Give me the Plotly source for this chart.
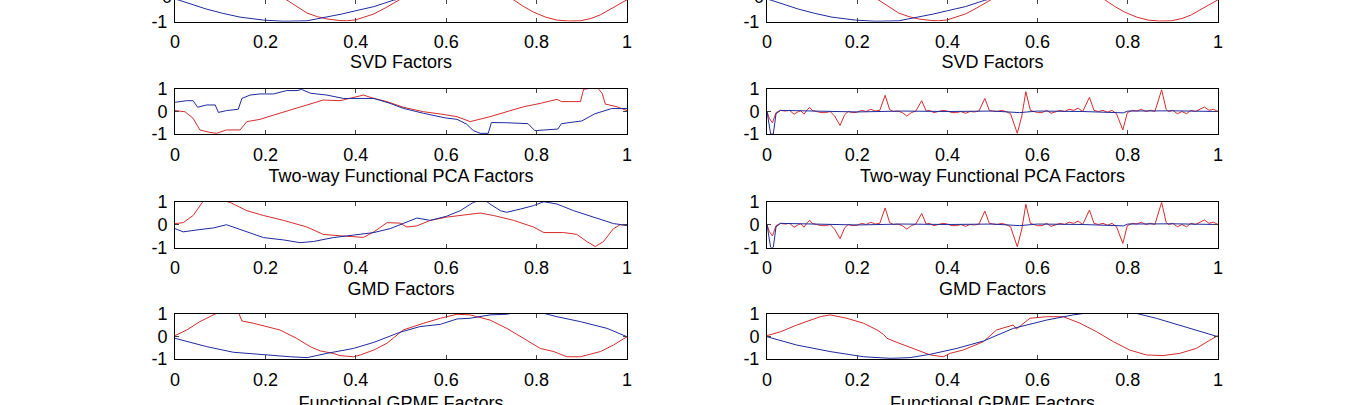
import plotly.graph_objects as go
from plotly.subplots import make_subplots

# axis ticks shared by all panels
x_ticks = [0, 0.2, 0.4, 0.6, 0.8, 1]
x_ticktext = ['0', '0.2', '0.4', '0.6', '0.8', '1']
y_ticks = [-1, 0, 1]
y_ticktext = ['-1', '0', '1']

row_titles = ['SVD Factors', 'Two-way Functional PCA Factors', 'GMD Factors', 'Functional GPMF Factors']

# row 1 - SVD factors (same in both columns, top of panel cut off)
svd_x_blue = [0, 0.035, 0.07, 0.105, 0.144, 0.196, 0.24, 0.292, 0.336, 0.37, 0.4, 0.44, 0.483,
              0.52, 0.6, 0.68, 0.75, 0.82, 0.9, 0.96, 1.0]
svd_y_blue = [0.0, -0.22, -0.45, -0.63, -0.8, -0.93, -0.98, -0.96, -0.8, -0.66, -0.52, -0.34, -0.06,
              0.12, 0.58, 0.9, 0.98, 0.88, 0.58, 0.25, 0.0]
svd_x_red = [0, 0.06, 0.125, 0.19, 0.247, 0.27, 0.292, 0.315, 0.336, 0.365, 0.38, 0.4, 0.42, 0.44,
             0.465, 0.49, 0.56, 0.625, 0.69, 0.749, 0.77, 0.793, 0.82, 0.845, 0.87, 0.897, 0.92,
             0.941, 0.97, 1.0]
svd_y_red = [0.0, 0.68, 1.0, 0.68, -0.04, -0.34, -0.62, -0.78, -0.88, -0.95, -0.96, -0.92, -0.8, -0.66,
             -0.4, -0.06, 0.68, 0.98, 0.7, -0.04, -0.32, -0.58, -0.8, -0.93, -0.97, -0.96, -0.86,
             -0.7, -0.38, -0.04]

# row 2 left - two-way functional PCA
fpca_x_blue = [0, 0.026, 0.04, 0.05, 0.07, 0.089, 0.096, 0.114, 0.14, 0.148, 0.166, 0.188, 0.218,
               0.247, 0.27, 0.28, 0.3, 0.336, 0.373, 0.4, 0.44, 0.476, 0.505, 0.55, 0.597, 0.624,
               0.645, 0.66, 0.675, 0.693, 0.70, 0.734, 0.781, 0.796, 0.847, 0.855, 0.9, 0.929,
               0.966, 1.0]
fpca_y_blue = [0.41, 0.48, 0.48, 0.19, 0.29, 0.29, -0.04, 0.04, 0.1, 0.58, 0.73, 0.78, 0.78,
               0.93, 0.93, 0.98, 0.81, 0.73, 0.58, 0.58, 0.58, 0.36, 0.14, -0.08, -0.28, -0.35,
               -0.56, -0.85, -0.97, -0.97, -0.49, -0.5, -0.54, -0.85, -0.78, -0.54, -0.42, -0.1,
               0.13, 0.13]
fpca_x_red = [0, 0.022, 0.04, 0.055, 0.077, 0.092, 0.114, 0.144, 0.159, 0.188, 0.218, 0.255, 0.292,
              0.328, 0.365, 0.4, 0.417, 0.44, 0.469, 0.505, 0.55, 0.587, 0.624, 0.653, 0.697,
              0.734, 0.771, 0.808, 0.845, 0.855, 0.897, 0.904, 0.934, 0.945, 0.952, 0.978, 1.0]
fpca_y_red = [0.04, -0.01, -0.3, -0.82, -0.93, -0.97, -0.82, -0.82, -0.45, -0.35, -0.16, 0.07, 0.29,
              0.51, 0.48, 0.66, 0.73, 0.58, 0.44, 0.19, -0.01, -0.11, -0.23, -0.45, -0.23,
              -0.01, 0.21, 0.36, 0.54, 0.44, 0.44, 0.99, 1.07, 0.81, 0.33, 0.21, 0.04]

# rows 2/3 right - spiky factors
spike_x_red = [0, 0.005, 0.012, 0.02, 0.03, 0.04, 0.05, 0.06, 0.07, 0.075, 0.082, 0.09, 0.095, 0.1,
               0.11, 0.12, 0.13, 0.14, 0.15, 0.162, 0.172, 0.18, 0.19, 0.2, 0.21, 0.22, 0.23, 0.24,
               0.25, 0.262, 0.272, 0.28, 0.29, 0.3, 0.31, 0.32, 0.33, 0.343, 0.353, 0.36, 0.37,
               0.38, 0.39, 0.4, 0.41, 0.42, 0.43, 0.44, 0.45, 0.46, 0.47, 0.483, 0.493, 0.5, 0.51,
               0.52, 0.53, 0.54, 0.555, 0.565, 0.574, 0.584, 0.59, 0.6, 0.61, 0.62, 0.63, 0.64,
               0.65, 0.66, 0.67, 0.68, 0.69, 0.7, 0.715, 0.725, 0.735, 0.745, 0.755, 0.765, 0.775,
               0.789, 0.799, 0.81, 0.82, 0.83, 0.84, 0.85, 0.86, 0.875, 0.885, 0.89, 0.9, 0.91,
               0.92, 0.93, 0.94, 0.95, 0.96, 0.97, 0.98, 0.99, 1.0]
spike_y_red = [0.0, -0.3, -0.5, -0.05, 0.05, 0.02, 0.05, -0.12, 0.0, 0.03, -0.12, 0.1, 0.18, 0.05,
               0.0, -0.05, -0.05, 0.0, -0.2, -0.62, -0.15, 0.0, -0.05, -0.03, 0.05, 0.0, 0.1, 0.02,
               0.05, 0.72, 0.08, 0.0, 0.02, -0.05, -0.2, -0.05, 0.02, 0.48, 0.02, 0.05, -0.05,
               0.0, 0.05, 0.02, -0.05, -0.05, 0.0, -0.08, 0.0, -0.02, 0.02, 0.58, 0.05, 0.02, 0.0,
               0.05, 0.0, -0.1, -0.97, -0.2, 0.88, 0.05, 0.0, -0.05, -0.05, 0.05, -0.08, 0.0,
               0.05, 0.0, 0.1, 0.05, 0.15, 0.0, 0.63, 0.05, 0.0, 0.05, -0.03, 0.05, -0.1,
               -0.82, -0.05, 0.05, 0.02, 0.1, 0.0, 0.05, 0.0, 0.96, 0.1, 0.0, 0.05, -0.1,
               0.0, -0.1, 0.05, 0.0, 0.1, 0.2, 0.05, 0.1, 0.0]
spike_x_blue = [0, 0.004, 0.008, 0.014, 0.02, 0.03, 0.1, 0.2, 0.3, 0.4, 0.5, 0.56, 0.6, 0.7, 0.79,
                0.8, 0.9, 1.0]
spike_y_blue = [0.0, -0.5, -1.0, -1.0, -0.1, 0.05, 0.02, -0.02, 0.02, 0.0, 0.02, -0.05, 0.02, 0.0,
                -0.06, 0.02, 0.03, 0.0]

# row 3 left - GMD
gmd_x_red = [0, 0.018, 0.04, 0.063, 0.092, 0.107, 0.122, 0.159, 0.196, 0.24, 0.292, 0.328, 0.365,
             0.4, 0.417, 0.44, 0.461, 0.469, 0.498, 0.513, 0.535, 0.565, 0.601, 0.66, 0.675, 0.705,
             0.749, 0.793, 0.816, 0.86, 0.889, 0.911, 0.93, 0.948, 0.97, 0.985, 1.0]
gmd_y_red = [0.04, 0.08, 0.39, 1.03, 1.17, 1.03, 0.96, 0.6, 0.39, 0.18, -0.11, -0.43, -0.49,
             -0.53, -0.56, -0.32, -0.04, 0.08, 0.06, -0.11, -0.06, 0.18, 0.32, 0.46, 0.5, 0.39,
             0.18, -0.11, -0.35, -0.35, -0.43, -0.74, -0.96, -0.74, -0.18, -0.01, -0.04]
gmd_x_blue = [0, 0.018, 0.055, 0.085, 0.114, 0.129, 0.159, 0.196, 0.24, 0.277, 0.306, 0.35, 0.395,
              0.44, 0.476, 0.513, 0.535, 0.565, 0.601, 0.631, 0.66, 0.683, 0.697, 0.72, 0.734,
              0.764, 0.793, 0.816, 0.845, 0.882, 0.926, 0.97, 1.0]
gmd_y_blue = [-0.18, -0.32, -0.22, -0.15, -0.01, -0.11, -0.32, -0.57, -0.67, -0.79, -0.74, -0.57,
              -0.46, -0.35, -0.18, 0.11, 0.28, 0.18, 0.36, 0.6, 0.96, 1.1, 0.89, 0.6, 0.53,
              0.67, 0.82, 0.99, 0.89, 0.6, 0.32, 0.04, -0.04]

# row 4 left - functional GPMF
gpmf_l_x_red = [0, 0.026, 0.055, 0.085, 0.107, 0.14, 0.148, 0.173, 0.203, 0.232, 0.269, 0.299, 0.321,
                0.35, 0.365, 0.395, 0.41, 0.44, 0.469, 0.505, 0.55, 0.587, 0.624, 0.653, 0.697,
                0.734, 0.771, 0.808, 0.838, 0.867, 0.897, 0.941, 0.97, 1.0]
gpmf_l_y_red = [0.04, 0.29, 0.66, 0.99, 1.18, 1.1, 0.69, 0.59, 0.44, 0.29, -0.08, -0.45, -0.64,
                -0.75, -0.85, -0.9, -0.82, -0.6, -0.3, 0.29, 0.59, 0.81, 0.99, 0.96, 0.73,
                0.36, -0.08, -0.53, -0.67, -0.9, -0.9, -0.67, -0.38, -0.01]
gpmf_l_x_blue = [0, 0.026, 0.07, 0.129, 0.196, 0.255, 0.292, 0.336, 0.395, 0.44, 0.498, 0.542, 0.587,
                 0.624, 0.653, 0.697, 0.734, 0.756, 0.808, 0.845, 0.897, 0.956, 1.0]
gpmf_l_y_blue = [-0.08, -0.23, -0.45, -0.7, -0.82, -0.9, -0.94, -0.75, -0.53, -0.26, 0.19, 0.44, 0.54,
                 0.78, 0.81, 0.96, 0.99, 1.07, 1.07, 0.88, 0.66, 0.36, -0.01]

# row 4 right - functional GPMF
gpmf_r_x_red = [0, 0.03, 0.066, 0.089, 0.118, 0.14, 0.177, 0.214, 0.244, 0.258, 0.266, 0.288, 0.325,
                0.362, 0.391, 0.406, 0.435, 0.48, 0.509, 0.546, 0.553, 0.583, 0.62, 0.657, 0.694,
                0.731, 0.768, 0.804, 0.841, 0.878, 0.915, 0.952, 0.982, 1.0]
gpmf_r_y_red = [0.04, 0.21, 0.51, 0.66, 0.88, 0.96, 0.81, 0.59, 0.29, 0.1, -0.08, -0.26, -0.53,
                -0.82, -0.9, -0.75, -0.6, -0.23, 0.29, 0.51, 0.33, 0.81, 0.88, 0.88, 0.59,
                0.21, -0.23, -0.6, -0.82, -0.85, -0.75, -0.53, -0.16, 0.04]
gpmf_r_x_blue = [0, 0.066, 0.14, 0.214, 0.273, 0.317, 0.362, 0.421, 0.48, 0.546, 0.62, 0.679, 0.731,
                 0.804, 0.863, 0.915, 0.967, 1.0]
gpmf_r_y_blue = [-0.01, -0.38, -0.67, -0.9, -0.97, -0.94, -0.79, -0.53, -0.2, 0.36, 0.73, 0.96, 1.1,
                 1.1, 0.81, 0.51, 0.21, -0.01]

BLUE = '#1f2a9e'
RED = '#d42c2c'
FONT = 'Liberation Sans, Arial, sans-serif'
W, H = 1345, 405

panels = {
    (1, 1): (svd_x_blue, svd_y_blue, svd_x_red, svd_y_red),
    (1, 2): (svd_x_blue, svd_y_blue, svd_x_red, svd_y_red),
    (2, 1): (fpca_x_blue, fpca_y_blue, fpca_x_red, fpca_y_red),
    (2, 2): (spike_x_blue, spike_y_blue, spike_x_red, spike_y_red),
    (3, 1): (gmd_x_blue, gmd_y_blue, gmd_x_red, gmd_y_red),
    (3, 2): (spike_x_blue, spike_y_blue, spike_x_red, spike_y_red),
    (4, 1): (gpmf_l_x_blue, gpmf_l_y_blue, gpmf_l_x_red, gpmf_l_y_red),
    (4, 2): (gpmf_r_x_blue, gpmf_r_y_blue, gpmf_r_x_red, gpmf_r_y_red),
}

# pixel boxes
col_px = [(175, 627), (767, 1218)]
row_px = [(-24, 21.7), (89, 134), (201.5, 247.5), (314, 359)]
title_px = [63, 177, 290.5, 404]

fig = make_subplots(rows=4, cols=2)

for (r, c), (xb, yb, xr, yr) in panels.items():
    fig.add_trace(go.Scatter(x=xr, y=yr, mode='lines', line=dict(color=RED, width=1),
                             showlegend=False, hoverinfo='skip'), row=r, col=c)
    fig.add_trace(go.Scatter(x=xb, y=yb, mode='lines', line=dict(color=BLUE, width=1),
                             showlegend=False, hoverinfo='skip'), row=r, col=c)

    x0, x1 = col_px[c - 1]
    top, bot = row_px[r - 1]
    ytop = min(1.0, 1 - top / H)
    ybot = 1 - bot / H
    if r == 1:
        # only the lower strip of the first row is on the page
        yrange = [-1, -1 + 2 * bot / (bot - top)]
    else:
        yrange = [-1, 1]

    fig.update_xaxes(domain=[x0 / W, x1 / W], range=[0, 1], tickvals=x_ticks, ticktext=x_ticktext,
                     ticks='inside', ticklen=4, mirror='ticks', showline=True, linecolor='black',
                     linewidth=1, showgrid=False, zeroline=False, ticklabelstandoff=4,
                     automargin=False, tickfont=dict(size=18, color='black', family=FONT),
                     row=r, col=c)
    fig.update_yaxes(domain=[ybot, ytop], range=yrange, tickvals=y_ticks, ticktext=y_ticktext,
                     ticks='inside', ticklen=4, mirror='ticks', showline=True, linecolor='black',
                     linewidth=1, showgrid=False, zeroline=False, ticklabelstandoff=3,
                     automargin=False, tickfont=dict(size=18, color='black', family=FONT),
                     row=r, col=c)

# panel titles and the cut-off "0" label of row 1 go on a full-page overlay in pixel units,
# so whatever sticks out past the page edge is clipped like in the picture
title_x, title_y, title_txt = [], [], []
for c in (1, 2):
    x0, x1 = col_px[c - 1]
    for r in range(4):
        title_x.append((x0 + x1) / 2)
        title_y.append(title_px[r])
        title_txt.append(row_titles[r])

fig.add_trace(go.Scatter(x=title_x, y=title_y, text=title_txt, mode='text',
                         textposition='middle center', cliponaxis=True,
                         textfont=dict(size=18, color='black', family=FONT),
                         showlegend=False, hoverinfo='skip', xaxis='x9', yaxis='y9'))

top, bot = row_px[0]
fig.add_trace(go.Scatter(x=[col_px[0][0] - 3, col_px[1][0] - 3], y=[bot - (bot - top) / 2] * 2,
                         text=['0', '0'], mode='text', textposition='middle left', cliponaxis=True,
                         textfont=dict(size=18, color='black', family=FONT),
                         showlegend=False, hoverinfo='skip', xaxis='x9', yaxis='y9'))

fig.update_layout(width=W, height=H,
                  margin=dict(l=0, r=0, t=0, b=0, pad=0, autoexpand=False),
                  paper_bgcolor='white', plot_bgcolor='rgba(0,0,0,0)', showlegend=False,
                  xaxis9=dict(domain=[0, 1], range=[0, W], visible=False, anchor='y9',
                              fixedrange=True, automargin=False),
                  yaxis9=dict(domain=[0, 1], range=[H, 0], visible=False, anchor='x9',
                              fixedrange=True, automargin=False))

# page body margin off so the figure sits flush in the window
fig.write_html("out.html", config={'displayModeBar': False},
               post_script="document.body.style.margin='0';")
